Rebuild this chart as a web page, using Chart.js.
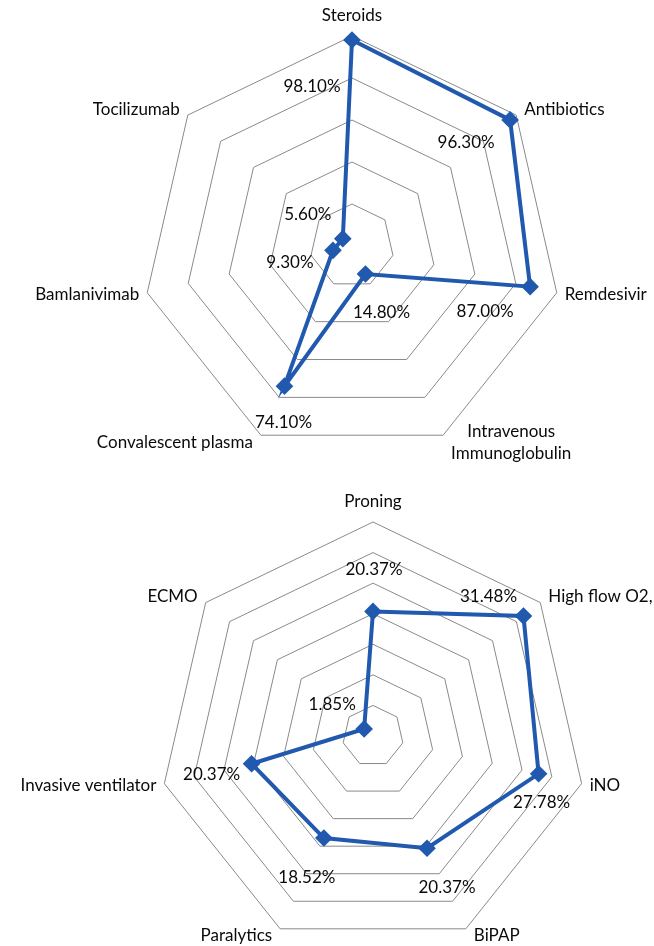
<!DOCTYPE html>
<html>
<head>
<meta charset="utf-8">
<script src="https://cdn.jsdelivr.net/npm/chart.js@4.4.1/dist/chart.umd.min.js"></script>
<style>
  html, body { margin: 0; padding: 0; background: #fff; }
  body { width: 654px; height: 946px; position: relative; overflow: hidden; }
  .box { position: absolute; left: 0; width: 654px; }
  #top { top: 0; height: 478px; }
  #bottom { top: 470px; height: 500px; }
</style>
</head>
<body>
<div class="box" id="top"><canvas id="drugs" width="654" height="478"></canvas></div>
<div class="box" id="bottom"><canvas id="support" width="654" height="500"></canvas></div>
<script>
// Medications given (percent of patients)
const drugLabels = ['Steroids', 'Antibiotics', 'Remdesivir', ['Intravenous', 'Immunoglobulin'],
                    'Convalescent plasma', 'Bamlanivimab', 'Tocilizumab'];
const drugValues = [98.10, 96.30, 87.00, 14.80, 74.10, 9.30, 5.60];

// Respiratory support used (percent of patients)
const supportLabels = ['Proning', 'High flow O2,', 'iNO', 'BiPAP', 'Paralytics',
                       'Invasive ventilator', 'ECMO'];
const supportValues = [20.37, 31.48, 27.78, 20.37, 18.52, 20.37, 1.85];

// Value-label nudges (px) away from each marker
const drugLabelShift = [[-40, 47], [-44, 23], [-45, 25], [16, 39], [-1, 36], [-43, 12], [-35, -24]];
const supportLabelShift = [[1, -42], [-35, -19], [3, 29], [20, 39], [-17, 39], [-40, 11], [-32, -24]];

const BLUE = '#2159ae';
const FONT = 'Lato, "Liberation Sans", sans-serif';
const TEXT = '#0a0a0a';

// Percent labels next to each marker
const valueLabels = {
  id: 'valueLabels',
  afterDatasetsDraw(chart, args, opts) {
    const ctx = chart.ctx;
    const r = chart.scales.r;
    const values = chart.data.datasets[0].data;
    ctx.save();
    ctx.font = '17px ' + FONT;
    ctx.fillStyle = TEXT;
    ctx.textAlign = 'center';
    ctx.textBaseline = 'middle';
    values.forEach((v, i) => {
      const p = r.getPointPositionForValue(i, v);
      const s = opts.shift[i];
      ctx.fillText(v.toFixed(2) + '%', p.x + s[0], p.y + s[1]);
    });
    ctx.restore();
  }
};

// Category names just outside the outer ring
const axisLabels = {
  id: 'axisLabels',
  afterDraw(chart) {
    const ctx = chart.ctx;
    const r = chart.scales.r;
    const labels = chart.data.labels;
    const n = labels.length;
    ctx.save();
    ctx.font = '17px ' + FONT;
    ctx.fillStyle = TEXT;
    ctx.textBaseline = 'middle';
    ctx.textAlign = 'center';
    labels.forEach((lab, i) => {
      const lines = Array.isArray(lab) ? lab : [lab];
      const v = r.getPointPositionForValue(i, r.max);
      const a = (i / n) * 2 * Math.PI;
      const s = Math.sin(a), c = Math.cos(a);
      const w = Math.max(...lines.map(t => ctx.measureText(t).width));
      let cx, cy;
      if (Math.abs(s) < 0.05) {
        cx = v.x;
        cy = v.y - 20;
      } else {
        cx = s > 0 ? v.x + 8 + w / 2 : v.x - 8 - w / 2;
        cy = v.y + (c > 0.3 ? -6 : c < -0.5 ? 7 : 2);
      }
      const lh = 22;
      const y0 = cy - (lines.length - 1) * lh / 2;
      lines.forEach((t, k) => ctx.fillText(t, cx, y0 + k * lh));
    });
    ctx.restore();
  }
};

function radar(id, labels, values, max, step, shift, padding) {
  return new Chart(document.getElementById(id), {
    type: 'radar',
    data: {
      labels: labels,
      datasets: [{
        data: values,
        borderColor: BLUE,
        backgroundColor: BLUE,
        borderWidth: 4,
        fill: false,
        pointStyle: 'rectRot',
        pointRadius: 6,
        pointBackgroundColor: BLUE,
        pointBorderColor: BLUE,
        tension: 0
      }]
    },
    options: {
      responsive: false,
      animation: false,
      layout: { padding: padding },
      plugins: {
        legend: { display: false },
        tooltip: { enabled: false },
        valueLabels: { shift: shift }
      },
      scales: {
        r: {
          min: 0,
          max: max,
          ticks: { stepSize: step, display: false },
          grid: { color: '#8a8a8a', lineWidth: 1 },
          angleLines: { display: false },
          pointLabels: { display: false }
        }
      }
    },
    plugins: [valueLabels, axisLabels]
  });
}

radar('drugs', drugLabels, drugValues, 100, 20, drugLabelShift,
      { top: 36, bottom: 22, left: 142, right: 92 });
radar('support', supportLabels, supportValues, 35, 5, supportLabelShift,
      { top: 52, bottom: 20, left: 159, right: 67 });
</script>
</body>
</html>
